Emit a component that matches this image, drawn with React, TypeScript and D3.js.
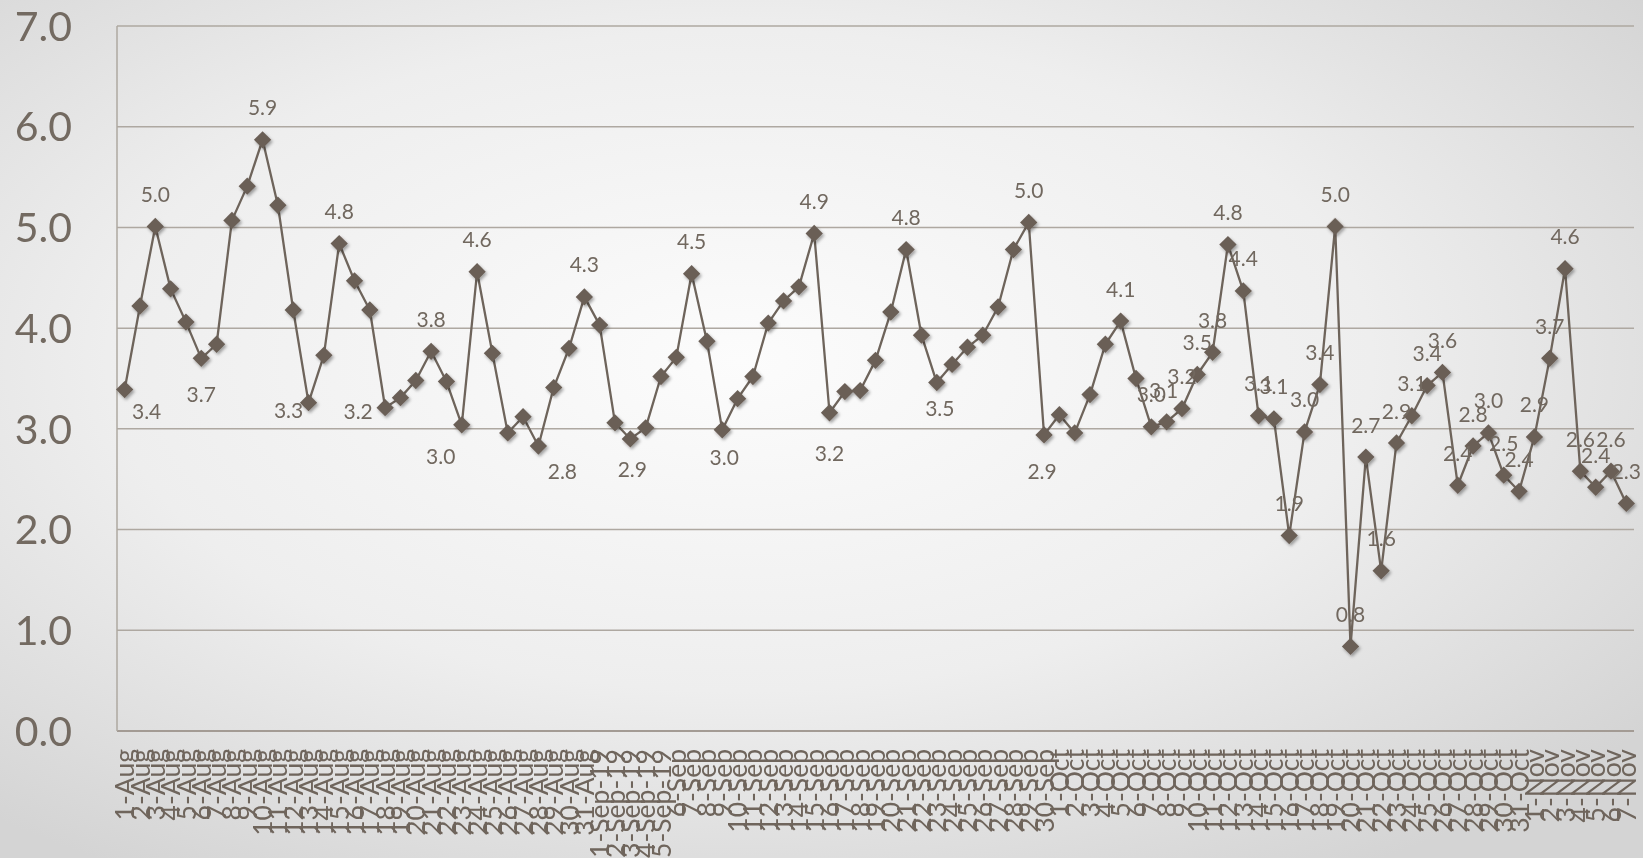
import React from "react";
import * as d3 from "d3";

const categories = [
  "1-Aug","2-Aug","3-Aug","4-Aug","5-Aug","6-Aug","7-Aug","8-Aug","9-Aug","10-Aug",
  "11-Aug","12-Aug","13-Aug","14-Aug","15-Aug","16-Aug","17-Aug","18-Aug","19-Aug","20-Aug",
  "21-Aug","22-Aug","23-Aug","24-Aug","25-Aug","26-Aug","27-Aug","28-Aug","29-Aug","30-Aug",
  "31-Aug","1-Sep-19","2-Sep-19","3-Sep-19","4-Sep-19","5-Sep-19","6-Sep","7-Sep","8-Sep","9-Sep",
  "10-Sep","11-Sep","12-Sep","13-Sep","14-Sep","15-Sep","16-Sep","17-Sep","18-Sep","19-Sep",
  "20-Sep","21-Sep","22-Sep","23-Sep","24-Sep","25-Sep","26-Sep","27-Sep","28-Sep","29-Sep",
  "30-Sep","1-Oct","2-Oct","3-Oct","4-Oct","5-Oct","6-Oct","7-Oct","8-Oct","9-Oct",
  "10-Oct","11-Oct","12-Oct","13-Oct","14-Oct","15-Oct","16-Oct","17-Oct","18-Oct","19-Oct",
  "20-Oct","21-Oct","22-Oct","23-Oct","24-Oct","25-Oct","26-Oct","27-Oct","28-Oct","29-Oct",
  "30-Oct","31-Oct","1-Nov","2-Nov","3-Nov","4-Nov","5-Nov","6-Nov","7-Nov",
];

const values = [
  3.39, 4.22, 5.01, 4.39, 4.06, 3.70, 3.84, 5.07, 5.41, 5.87,
  5.22, 4.18, 3.26, 3.73, 4.84, 4.47, 4.18, 3.21, 3.31, 3.48,
  3.77, 3.47, 3.04, 4.56, 3.75, 2.96, 3.12, 2.83, 3.41, 3.80,
  4.31, 4.03, 3.06, 2.90, 3.01, 3.52, 3.71, 4.54, 3.87, 2.99,
  3.30, 3.52, 4.05, 4.27, 4.41, 4.94, 3.16, 3.37, 3.38, 3.68,
  4.16, 4.78, 3.93, 3.46, 3.64, 3.81, 3.93, 4.21, 4.78, 5.05,
  2.94, 3.14, 2.96, 3.34, 3.84, 4.07, 3.50, 3.02, 3.07, 3.20,
  3.54, 3.76, 4.83, 4.37, 3.13, 3.10, 1.94, 2.97, 3.44, 5.01,
  0.84, 2.72, 1.59, 2.86, 3.13, 3.43, 3.56, 2.44, 2.83, 2.96,
  2.54, 2.38, 2.92, 3.70, 4.59, 2.58, 2.42, 2.58, 2.26,
];

const yTicks = [0, 1, 2, 3, 4, 5, 6, 7];

// indices of points that carry a data label
const labeledPoints = [
  0, 2, 5, 9, 12, 14, 17, 20, 22, 23, 27, 30, 33, 37, 39, 45, 46, 51, 53, 59, 60, 65,
  67, 68, 69, 70, 71, 72, 73, 74, 75, 76, 77, 78, 79, 80, 81, 82, 83, 84, 85, 86, 87,
  88, 89, 90, 91, 92, 93, 94, 95, 96, 97, 98,
];

// label placement (styling): default is above the point
const labelShift: Record<number, [number, number]> = {
  0: [22, 22],
  5: [0, 36],
  12: [-20, 8],
  17: [-27, 4],
  22: [-21, 32],
  27: [24, 25],
  33: [2, 31],
  39: [2, 28],
  46: [0, 41],
  53: [3, 26],
  60: [-2, 37],
  68: [-3, -31],
};

const W = 1643;
const H = 858;
const left = 117;
const right = 1634;
const top = 26;
const bottom = 731;

export default function App() {
  const x = d3.scalePoint<string>().domain(categories).range([left, right]).padding(0.5);
  const y = d3.scaleLinear().domain([0, 7]).range([bottom, top]);

  const line = d3
    .line<number>()
    .x((_, i) => x(categories[i]) as number)
    .y((d) => y(d));

  const diamond = d3.symbol().type(d3.symbolSquare).size(150)() as string;

  const fontFamily = "Lato, 'Open Sans', sans-serif";
  const textColor = "#736a61";
  const gridColor = "#aea8a1";

  return (
    <svg
      width={W}
      height={H}
      style={{ position: "fixed", left: 0, top: 0, display: "block" }}
      fontFamily={fontFamily}
    >
      <defs>
        <radialGradient id="bg" cx="45%" cy="42%" r="70%">
          <stop offset="0%" stopColor="#fcfcfc" />
          <stop offset="55%" stopColor="#eeeeee" />
          <stop offset="100%" stopColor="#d4d4d4" />
        </radialGradient>
        <filter id="shadow" x="-50%" y="-50%" width="200%" height="200%">
          <feDropShadow dx="1.5" dy="2" stdDeviation="1.6" floodColor="#000" floodOpacity="0.35" />
        </filter>
      </defs>
      <rect x={0} y={0} width={W} height={H} fill="url(#bg)" />

      {/* gridlines */}
      {yTicks.map((t) => (
        <line
          key={"g" + t}
          x1={left}
          x2={right}
          y1={y(t)}
          y2={y(t)}
          stroke={t === 0 ? "#a39b94" : gridColor}
          strokeWidth={t === 0 ? 2 : 1.5}
        />
      ))}
      <line x1={left} x2={left} y1={top} y2={bottom} stroke={gridColor} strokeWidth={1.5} />

      {/* y tick labels */}
      {yTicks.map((t) => (
        <text
          key={"yt" + t}
          x={72}
          y={y(t)}
          dy="0.36em"
          textAnchor="end"
          fontSize={41}
          fill={textColor}
        >
          {t.toFixed(1)}
        </text>
      ))}

      {/* x tick labels */}
      {categories.map((c) => (
        <text
          key={"xt" + c}
          transform={`translate(${x(c)},749) rotate(-90)`}
          dy="0.36em"
          textAnchor="end"
          fontSize={26.5}
          fill="#6f655c"
        >
          {c}
        </text>
      ))}

      {/* series line */}
      <path d={line(values) as string} fill="none" stroke="#6e645b" strokeWidth={2.3} strokeLinejoin="round" />

      {/* markers */}
      <g filter="url(#shadow)">
        {values.map((v, i) => (
          <path
            key={"m" + i}
            d={diamond}
            transform={`translate(${x(categories[i])},${y(v)}) rotate(45)`}
            fill="#6a5f56"
          />
        ))}
      </g>

      {/* data labels */}
      {labeledPoints.map((i) => {
        const [dx, dy] = labelShift[i] ?? [0, -32];
        return (
          <text
            key={"l" + i}
            x={(x(categories[i]) as number) + dx}
            y={y(values[i]) + dy}
            dy="0.36em"
            textAnchor="middle"
            fontSize={21}
            fill="#71685f"
          >
            {values[i].toFixed(1)}
          </text>
        );
      })}
    </svg>
  );
}
